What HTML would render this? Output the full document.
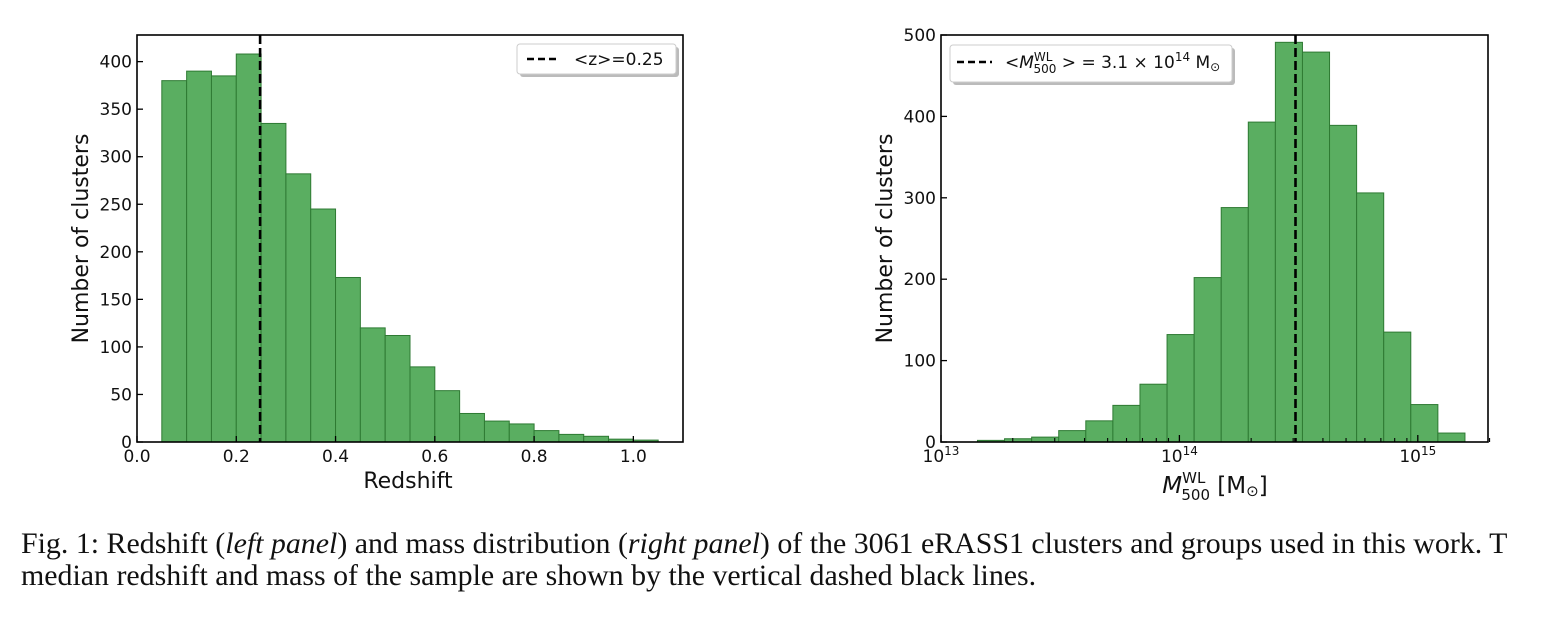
<!DOCTYPE html>
<html><head><meta charset="utf-8"><style>
body{margin:0;background:#fff;width:1545px;height:622px;overflow:hidden}
svg{position:absolute;left:0;top:0}
.cap{position:absolute;left:21px;font-family:"Liberation Serif",serif;font-size:29.9px;line-height:32px;color:#111;white-space:nowrap}
</style></head><body>
<svg id="chart" width="1545" height="622" font-family="DejaVu Sans, sans-serif"></svg>
<div class="cap" style="top:528px">Fig. 1: Redshift (<i>left panel</i>) and mass distribution (<i>right panel</i>) of the 3061 eRASS1 clusters and groups used in this work. T</div>
<div class="cap" style="top:560px">median redshift and mass of the sample are shown by the vertical dashed black lines.</div>
<script>
const zEdgesStart = 0.05, zBinWidth = 0.05;
const zCounts = [380,390,385,408,335,282,245,173,120,112,79,54,30,22,19,12,8,6,3,2];
const zMedian = 0.248;
const zTicks = [0.0,0.2,0.4,0.6,0.8,1.0];
const zYTicks = [0,50,100,150,200,250,300,350,400];
const mLogStart = 13.153, mLogWidth = 0.1136;
const mCounts = [2,4,6,14,26,45,71,132,202,288,393,491,479,389,306,135,46,11];
const mMedianLog = 14.487;
const mYTicks = [0,100,200,300,400,500];
const mDecades = [13,14,15];

const NS="http://www.w3.org/2000/svg";
const svg=document.getElementById('chart');
function el(t,a,p){const e=document.createElementNS(NS,t);for(const k in a)e.setAttribute(k,a[k]);(p||svg).appendChild(e);return e;}
function txt(s,a,p){const e=el('text',a,p);e.textContent=s;return e;}

function panel(o){
  const g=el('g',{});
  
  
  const {L,R,T,B}=o;
  o.bars.forEach((b,i)=>{
    const x0=o.sx(b[0]),x1=o.sx(b[1]),y=o.sy(b[2]);
    const r=el('rect',{x:x0,y:y,width:x1-x0,height:B-y,fill:'#5aae61',stroke:'#2e7a33','stroke-width':1},g);
    
    
  });
  const mx=o.sx(o.median);
  const ml=el('line',{x1:mx,x2:mx,y1:T,y2:B,stroke:'#000','stroke-width':2.6,'stroke-dasharray':'9,4'},g);
  
  
  const fr=el('rect',{x:L,y:T,width:R-L,height:B-T,fill:'none',stroke:'#000','stroke-width':1.6},g);
  
  
  o.yticks.forEach(v=>{
    const y=o.sy(v);
    el('line',{x1:L,x2:L+6,y1:y,y2:y,stroke:'#000','stroke-width':1.3},g);
    const t=txt(String(v),{x:L-5,y:y+6,'font-size':17,'text-anchor':'end',fill:'#111'},g);
    
    
  });
  o.xticks(g);
  const yl=txt('Number of clusters',{x:0,y:0,'font-size':22,'text-anchor':'middle',fill:'#111',transform:`translate(${o.ylx},${(T+B)/2}) rotate(-90)`},g);
  
  
}

{
  const L=137,R=683,T=35,B=442;
  const sx=v=>L+v*(R-L)/1.1, sy=v=>B-v*(B-T)/428;
  const bars=zCounts.map((c,i)=>[zEdgesStart+i*zBinWidth,zEdgesStart+(i+1)*zBinWidth,c]);
  panel({name:'redshift-panel',L,R,T,B,sx,sy,bars,median:zMedian,yticks:zYTicks,ylx:88,
    xticks:(g)=>{
      zTicks.forEach(v=>{const x=sx(v);el('line',{x1:x,x2:x,y1:B,y2:B-6,stroke:'#000','stroke-width':1.3},g);
        const t=txt(v.toFixed(1),{x:x,y:B+20,'font-size':17,'text-anchor':'middle',fill:'#111'},g);
        });
      const xl=txt('Redshift',{x:(L+R)/2-2,y:488,'font-size':22,'text-anchor':'middle',fill:'#111'},g);
      
    }});
  const lg=el('g',{});
  
  
  el('rect',{x:520,y:47,width:159,height:30,rx:3,fill:'#bbb'},lg);
  el('rect',{x:517,y:44,width:159,height:30,rx:3,fill:'#fff',stroke:'#ccc'},lg);
  el('line',{x1:527,x2:560,y1:59,y2:59,stroke:'#000','stroke-width':2.4,'stroke-dasharray':'7,4'},lg);
  txt('<z>=0.25',{x:574,y:65,'font-size':17,fill:'#111'},lg);
}

{
  const L=941,R=1488,T=35,B=442, dec=238.4;
  const sx=lv=>L+(lv-13)*dec, sy=v=>B-v*(B-T)/500;
  const bars=mCounts.map((c,i)=>[mLogStart+i*mLogWidth,mLogStart+(i+1)*mLogWidth,c]);
  panel({name:'mass-panel',L,R,T,B,sx,sy,bars,median:mMedianLog,yticks:mYTicks,ylx:892,
    xticks:(g)=>{
      for(let d=13;d<=15;d++){for(let k=2;k<=9;k++){const lv=d+Math.log10(k);if(lv>15.46)break;const x=sx(lv);
        el('line',{x1:x,x2:x,y1:B,y2:B-4,stroke:'#000','stroke-width':1.1},g);}}
      mDecades.forEach(d=>{const x=sx(d);el('line',{x1:x,x2:x,y1:B,y2:B-7,stroke:'#000','stroke-width':1.3},g);
        const t=el('text',{x:x,y:B+20,'font-size':17,'text-anchor':'middle',fill:'#111'},g);
        
        t.innerHTML='10<tspan dy="-7" font-size="12">'+d+'</tspan>';});
      const xl=el('text',{x:1215,y:493,'font-size':23,'text-anchor':'middle',fill:'#111'},g);
      
      xl.innerHTML='<tspan font-style="italic">M</tspan><tspan dy="-10" font-size="15">WL</tspan><tspan dx="-24" dy="17" font-size="15">500</tspan><tspan dy="-7"> [M</tspan><tspan font-size="15" dy="3">⊙</tspan><tspan dy="-3">]</tspan>';
    }});
  const lg=el('g',{});
  
  
  el('rect',{x:953,y:48,width:282,height:37,rx:3,fill:'#bbb'},lg);
  el('rect',{x:950,y:45,width:282,height:37,rx:3,fill:'#fff',stroke:'#ccc'},lg);
  el('line',{x1:957,x2:992,y1:62,y2:62,stroke:'#000','stroke-width':2.4,'stroke-dasharray':'7,4'},lg);
  const t=el('text',{x:1005,y:68,'font-size':17,fill:'#111'},lg);
  t.innerHTML='&lt;<tspan font-style="italic">M</tspan><tspan dy="-7" font-size="12">WL</tspan><tspan dx="-19" dy="12" font-size="12">500</tspan><tspan dy="-5"> &gt; = 3.1 × 10</tspan><tspan dy="-7" font-size="12">14</tspan><tspan dy="7"> M</tspan><tspan font-size="12" dy="3">⊙</tspan>';
}
</script>
</body></html>
